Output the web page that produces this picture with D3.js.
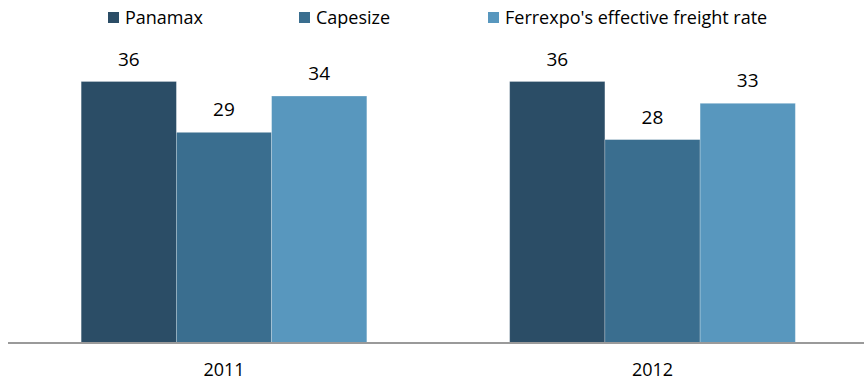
<!DOCTYPE html>
<html>
<head>
<meta charset="utf-8">
<script src="https://cdn.jsdelivr.net/npm/d3@7"></script>
<style>
  html, body { margin: 0; padding: 0; background: #fff; }
  svg { display: block; }
  text { font-family: "Open Sans", "Noto Sans", sans-serif; fill: #000; }
</style>
</head>
<body>
<svg id="chart" width="864" height="383"></svg>
<script>
// Freight rates by year (USD/t)
const years = ["2011", "2012"];
const series = ["Panamax", "Capesize", "Ferrexpo's effective freight rate"];
const panamax = [36, 36];
const capesize = [29, 28];
const ferrexpo = [34, 33];
const colors = ["#2b4d66", "#3a6e8f", "#5897be"];

const values = [panamax, capesize, ferrexpo];
const rows = years.map((year, i) => ({
  year,
  bars: series.map((name, s) => ({ name, s, value: values[s][i] }))
}));

const svg = d3.select("#chart");
const baseline = 343;

const x0 = d3.scaleBand()
  .domain(years)
  .range([9.75, 866.75])
  .paddingInner(1 / 3)
  .paddingOuter(1 / 6);

const x1 = d3.scaleBand()
  .domain(series)
  .range([0, x0.bandwidth()]);

const y = d3.scaleLinear()
  .domain([0, 36])
  .range([baseline, 81.5]);

// Bars and value labels
const groups = svg.append("g")
  .selectAll("g")
  .data(rows)
  .join("g")
  .attr("transform", d => `translate(${x0(d.year)},0)`);

groups.selectAll("rect")
  .data(d => d.bars)
  .join("rect")
  .attr("x", d => x1(d.name))
  .attr("y", d => y(d.value))
  .attr("width", x1.bandwidth())
  .attr("height", d => y(0) - y(d.value))
  .attr("fill", d => colors[d.s])
  .attr("stroke", "rgba(255,255,255,0.3)")
  .attr("stroke-width", 0.8);

groups.selectAll("text.value")
  .data(d => d.bars)
  .join("text")
  .attr("class", "value")
  .attr("x", d => x1(d.name) + x1.bandwidth() / 2)
  .attr("y", d => y(d.value) - 16)
  .attr("text-anchor", "middle")
  .style("font-size", "19px")
  .text(d => d.value);

// Category axis
svg.append("line")
  .attr("x1", 8).attr("x2", 864)
  .attr("y1", baseline).attr("y2", baseline)
  .attr("stroke", "#9a9a9a")
  .attr("stroke-width", 1.8);

svg.append("g")
  .selectAll("text")
  .data(years)
  .join("text")
  .attr("x", d => x0(d) + x0.bandwidth() / 2)
  .attr("y", 376)
  .attr("text-anchor", "middle")
  .style("font-size", "18px")
  .text(d => d);

// Legend
const legendX = [108, 299, 488];
const legend = svg.append("g")
  .selectAll("g")
  .data(series)
  .join("g")
  .attr("transform", (d, i) => `translate(${legendX[i]},12)`);

legend.append("rect")
  .attr("width", 11)
  .attr("height", 11)
  .attr("fill", (d, i) => colors[i]);

legend.append("text")
  .attr("x", 17)
  .attr("y", 12)
  .style("font-size", "18px")
  .text(d => d);
</script>
</body>
</html>
